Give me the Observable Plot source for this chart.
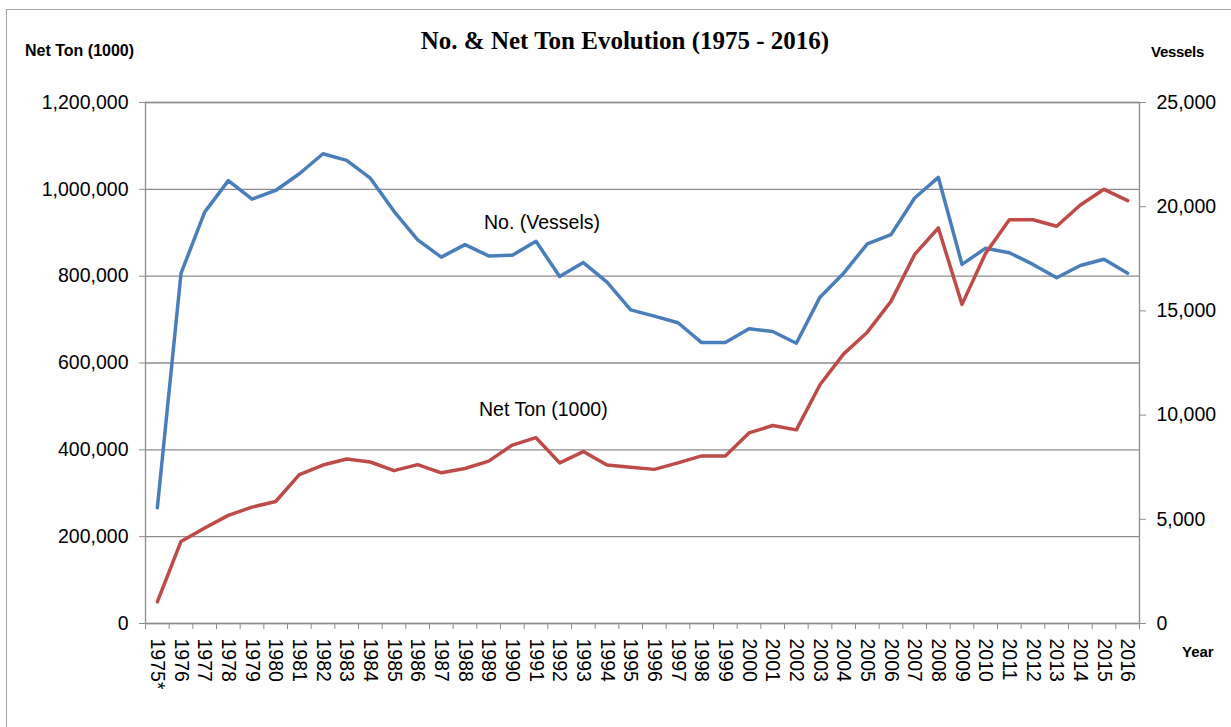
<!DOCTYPE html>
<html><head><meta charset="utf-8">
<script src="https://cdn.jsdelivr.net/npm/d3@7"></script>
<script src="https://cdn.jsdelivr.net/npm/@observablehq/plot@0.6"></script>
<style>
html,body{margin:0;padding:0;background:#fff;overflow:hidden;width:1231px;height:727px}
#wrap{position:relative;width:1231px;height:727px;font-family:"Liberation Sans",Arial,sans-serif;color:#000}
#border{position:absolute;left:6px;top:9px;width:1240px;height:740px;border:1px solid #a6a6a6;box-sizing:border-box}
#chart{position:absolute;left:0;top:0}
.lab{position:absolute;white-space:nowrap;line-height:20px}
#title{left:0;width:1250px;text-align:center;top:26px;line-height:30px;font-family:"Liberation Serif","Times New Roman",serif;font-weight:bold;font-size:25px}
.axt{font-weight:bold;font-size:16px}
.ann{font-size:19.5px}
</style></head>
<body>
<div id="wrap">
  <div id="border"></div>
  <div id="chart"></div>
  <div id="title" class="lab">No. &amp; Net Ton Evolution (1975 - 2016)</div>
  <div class="lab axt" style="left:25px;top:41px">Net Ton (1000)</div>
  <div class="lab axt" style="left:1151px;top:42px;font-size:15px;letter-spacing:-0.3px">Vessels</div>
  <div class="lab axt" style="left:1182px;top:642px;font-size:15px">Year</div>
  <div class="lab ann" style="left:484px;top:212px">No. (Vessels)</div>
  <div class="lab ann" style="left:479px;top:399px">Net Ton (1000)</div>
</div>
<script>
const years = ["1975*","1976","1977","1978","1979","1980","1981","1982","1983","1984","1985","1986","1987","1988","1989","1990","1991","1992","1993","1994","1995","1996","1997","1998","1999","2000","2001","2002","2003","2004","2005","2006","2007","2008","2009","2010","2011","2012","2013","2014","2015","2016"];
const netTon = [50000,189000,220000,249000,268000,281000,343000,365000,379000,372000,352000,366000,347000,357000,374000,411000,428000,370000,396000,365000,360000,355000,370000,386000,386000,439000,456000,446000,550000,621000,671000,742000,850000,911000,735000,853000,930000,930000,915000,964000,1000000,974000];
const vessels = [5550,16800,19740,21250,20360,20780,21580,22540,22220,21370,19780,18410,17580,18180,17640,17670,18340,16650,17320,16380,15050,14750,14430,13480,13480,14140,14010,13450,15660,16810,18220,18660,20420,21410,17230,18010,17790,17230,16590,17180,17480,16810];
const leftTicks = [0,200000,400000,600000,800000,1000000,1200000];
const rightTicks = [0,5000,10000,15000,20000,25000];
const leftMax = 1200000, rightMax = 25000;

const ratio = leftMax / rightMax;
const idx = d3.range(years.length);
const data = idx.map(i => ({i, net: netTon[i], ves: vessels[i] * ratio}));
const fmt = d3.format(",");
const grey = "#8c8c8c";
const plot = Plot.plot({
  width: 1231, height: 727,
  marginLeft: 145, marginRight: 92, marginTop: 102, marginBottom: 104,
  style: {fontFamily: "'Liberation Sans', Arial, sans-serif", fontSize: "19.5px", color: "#000", background: "transparent"},
  x: {type: "linear", domain: [-0.5, years.length - 0.5]},
  y: {domain: [0, leftMax]},
  marks: [
    Plot.gridY(leftTicks, {stroke: grey, strokeOpacity: 1, strokeWidth: 1.3}),
    Plot.frame({stroke: grey, strokeWidth: 1.3}),
    Plot.axisY(leftTicks, {anchor: "left", tickSize: 6, tickPadding: 11, tickFormat: fmt, label: null, stroke: grey}),
    Plot.axisY(rightTicks.map(v => v * ratio), {anchor: "right", tickSize: 6, tickPadding: 11, tickFormat: d => fmt(Math.round(d / ratio)), label: null, stroke: grey}),
    Plot.axisX(d3.range(-0.5, years.length), {anchor: "bottom", tickSize: 6, tickFormat: () => "", label: null, stroke: grey}),
    Plot.axisX(idx, {anchor: "bottom", tickSize: 0, tickPadding: 15, tickRotate: 90, tickFormat: i => years[i], label: null}),
    Plot.line(data, {x: "i", y: "ves", stroke: "#4A7EBB", strokeWidth: 3.5}),
    Plot.line(data, {x: "i", y: "net", stroke: "#BE4B48", strokeWidth: 3.5})
  ]
});
document.getElementById("chart").appendChild(plot);
</script>
</body></html>
